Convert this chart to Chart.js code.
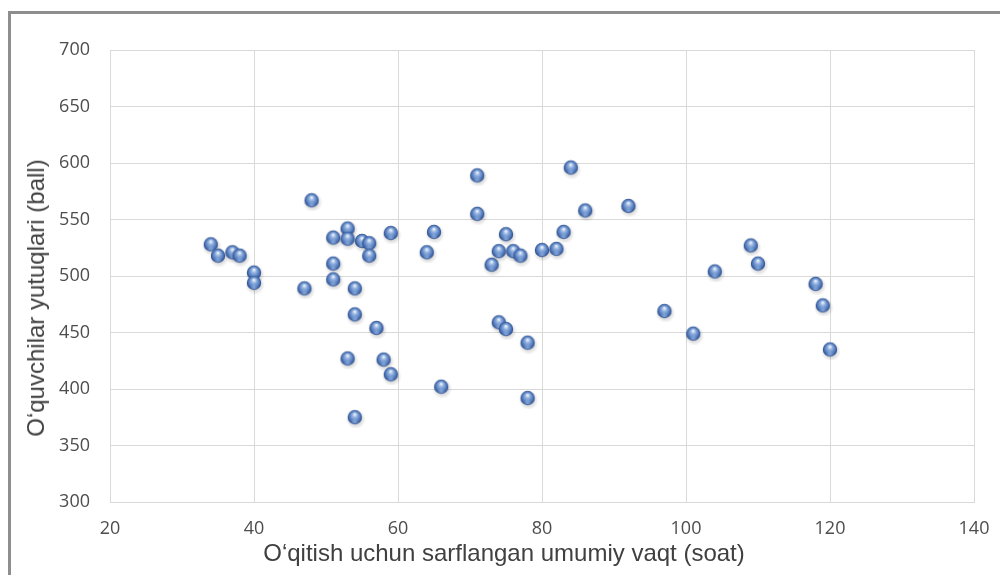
<!DOCTYPE html>
<html>
<head>
<meta charset="utf-8">
<script src="https://cdn.jsdelivr.net/npm/chart.js@4"></script>
<style>
  html, body { margin: 0; padding: 0; background: #fff; overflow: hidden; }
  #wrap { position: relative; width: 1000px; height: 575px; }
  #frame { position: absolute; left: 8px; top: 11px; width: 1100px; height: 700px;
           border-left: 3px solid #8e8e8e; border-top: 3px solid #8e8e8e; }
  #grafico { position: absolute; left: 0; top: 0; }
  .titulo { position: absolute; font-family: "Liberation Sans", Arial, sans-serif;
            font-size: 24px; color: #404040; white-space: nowrap; line-height: 1; }
  #tituloX { left: 0; width: 1008px; text-align: center; top: 541px; }
  #tituloY { left: 36px; top: 298px; transform: translate(-50%, -50%) rotate(-90deg); }
</style>
</head>
<body>
<div id="wrap">
  <div id="frame"></div>
  <canvas id="grafico" width="1000" height="575"></canvas>
  <div class="titulo" id="tituloX">O‘qitish uchun sarflangan umumiy vaqt (soat)</div>
  <div class="titulo" id="tituloY">O‘quvchilar yutuqlari (ball)</div>
</div>
<script>
// soatlar (x) va ballar (y)
const soatlar = [34, 35, 37, 38, 40, 40, 47, 48, 51, 51, 51, 53, 53, 54, 54, 53, 54, 55, 56, 56,
  57, 58, 59, 59, 64, 65, 66, 71, 71, 73, 74, 74, 75, 75, 76, 77, 78, 78, 80, 82,
  83, 84, 86, 92, 97, 101, 104, 109, 110, 118, 119, 120];
const ballar = [528, 518, 521, 518, 503, 494, 489, 567, 534, 511, 497, 542, 533, 489, 466, 427, 375, 531, 529, 518,
  454, 426, 413, 538, 521, 539, 402, 589, 555, 510, 522, 459, 537, 453, 522, 518, 441, 392, 523, 524,
  539, 596, 558, 562, 469, 449, 504, 527, 511, 493, 474, 435];
const ticksX = [20, 40, 60, 80, 100, 120, 140];
const ticksY = [300, 350, 400, 450, 500, 550, 600, 650, 700];

const puntos = soatlar.map((s, i) => ({ x: s, y: ballar[i] }));

// esfera tipo excel para cada punto
function crearEsfera() {
  const c = document.createElement("canvas");
  c.width = 22; c.height = 22;
  const g = c.getContext("2d");
  const cx = 11, cy = 11, r = 7.2;
  // sombra
  const sh = g.createRadialGradient(cx + 1, cy + 2, 2, cx + 1, cy + 2, 10);
  sh.addColorStop(0, "rgba(0,0,0,0.25)");
  sh.addColorStop(1, "rgba(0,0,0,0)");
  g.fillStyle = sh;
  g.beginPath(); g.arc(cx + 1, cy + 2, 10, 0, Math.PI * 2); g.fill();
  // cuerpo
  const gr = g.createRadialGradient(cx, cy - 3, 0.5, cx, cy, r);
  gr.addColorStop(0, "#e8f0fb");
  gr.addColorStop(0.3, "#90b0de");
  gr.addColorStop(0.75, "#4c74b8");
  gr.addColorStop(1, "#2b4a85");
  g.fillStyle = gr;
  g.beginPath(); g.arc(cx, cy, r, 0, Math.PI * 2); g.fill();
  // reflejo inferior
  const rb = g.createRadialGradient(cx, cy + 5, 0, cx, cy + 5, 4);
  rb.addColorStop(0, "rgba(170,200,240,0.6)");
  rb.addColorStop(1, "rgba(170,200,240,0)");
  g.fillStyle = rb;
  g.beginPath(); g.arc(cx, cy, r - 0.5, 0, Math.PI * 2); g.fill();
  return c;
}
const esfera = crearEsfera();

const ctx = document.getElementById("grafico");
const fuenteTicks = { family: "'Open Sans', 'Liberation Sans', sans-serif", size: 18 };

new Chart(ctx, {
  type: "scatter",
  data: {
    datasets: [{
      data: puntos,
      pointStyle: esfera,
      pointRadius: 8
    }]
  },
  options: {
    responsive: false,
    animation: false,
    events: [],
    layout: { padding: { left: 0, top: 50, right: 26, bottom: 0 } },
    plugins: { legend: { display: false }, tooltip: { enabled: false } },
    scales: {
      x: {
        type: "linear",
        min: 20, max: 140,
        afterBuildTicks: s => { s.ticks = ticksX.map(v => ({ value: v })); },
        afterFit: s => { s.height = 73; s.paddingRight = 0; s.paddingLeft = 0; },
        grid: { color: "#d9d9d9", drawTicks: false },
        border: { display: true, color: "#d9d9d9" },
        ticks: { color: "#4d4d4d", font: fuenteTicks, padding: 16 }
      },
      y: {
        type: "linear",
        min: 300, max: 700,
        afterBuildTicks: s => { s.ticks = ticksY.map(v => ({ value: v })); },
        afterFit: s => { s.width = 110; s.paddingTop = 0; s.paddingBottom = 0; },
        grid: { color: "#d9d9d9", drawTicks: false },
        border: { display: true, color: "#d9d9d9" },
        ticks: { color: "#4d4d4d", font: fuenteTicks, padding: 20 }
      }
    }
  }
});
</script>
</body>
</html>
